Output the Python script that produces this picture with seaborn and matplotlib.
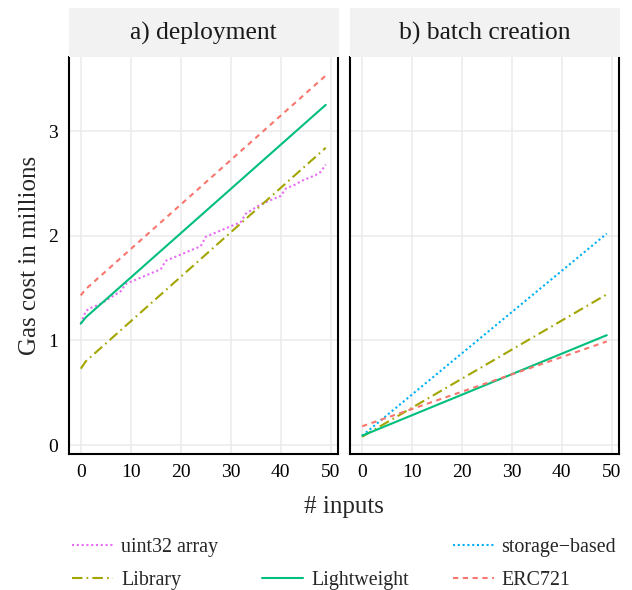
import matplotlib
matplotlib.use("Agg")
import numpy as np
import pandas as pd
import matplotlib.pyplot as plt
import seaborn as sns
from matplotlib.lines import Line2D
from matplotlib.patches import Rectangle

# ------------------------------------------------------------------
#  Data: gas cost in millions
# ------------------------------------------------------------------
UINT_X = list(range(50))
UINT_DEPLOY = [1.16, 1.28, 1.31, 1.33, 1.35, 1.38, 1.41, 1.44, 1.47, 1.54,
               1.56, 1.58, 1.60, 1.62, 1.64, 1.66, 1.68, 1.76, 1.78, 1.80,
               1.82, 1.84, 1.86, 1.88, 1.90, 1.99, 2.01, 2.03, 2.05, 2.07,
               2.09, 2.11, 2.13, 2.21, 2.24, 2.27, 2.30, 2.32, 2.34, 2.36,
               2.38, 2.45, 2.47, 2.49, 2.52, 2.54, 2.56, 2.58, 2.61, 2.68]

DEPLOY_X = [0, 1, 49]
ERC_DEPLOY = [1.43, 1.49, 3.53]
LIGHT_DEPLOY = [1.16, 1.22, 3.25]
LIB_DEPLOY = [0.73, 0.80, 2.84]

BATCH_X = [0, 49]
STORAGE_BATCH = [0.09, 2.02]
LIB_BATCH = [0.08, 1.44]
LIGHT_BATCH = [0.09, 1.05]
ERC_BATCH = [0.18, 0.99]

PANELS = ["a) deployment", "b) batch creation"]
IMPLS = ["ERC721", "Library", "Lightweight", "storage−based", "uint32 array"]
COLORS = ["#F8766D", "#A3A500", "#00BF7D", "#00B0F6", "#E76BF3"]
DASHES = [(2.5, 2.2), (5, 2, 0.8, 2), "", (1, 1.3), (1, 1.3)]


def to_long(panel, impl, xs, ys):
    return pd.DataFrame({"panel": panel, "impl": impl, "inputs": xs, "gas": ys})


df = pd.concat([
    to_long(PANELS[0], "uint32 array", UINT_X, UINT_DEPLOY),
    to_long(PANELS[0], "ERC721", DEPLOY_X, ERC_DEPLOY),
    to_long(PANELS[0], "Lightweight", DEPLOY_X, LIGHT_DEPLOY),
    to_long(PANELS[0], "Library", DEPLOY_X, LIB_DEPLOY),
    to_long(PANELS[1], "storage−based", BATCH_X, STORAGE_BATCH),
    to_long(PANELS[1], "Library", BATCH_X, LIB_BATCH),
    to_long(PANELS[1], "Lightweight", BATCH_X, LIGHT_BATCH),
    to_long(PANELS[1], "ERC721", BATCH_X, ERC_BATCH),
], ignore_index=True)

palette = dict(zip(IMPLS, COLORS))
dashes = dict(zip(IMPLS, DASHES))

# ------------------------------------------------------------------
#  Figure
# ------------------------------------------------------------------
sns.set_theme(style="white")
plt.rcParams["font.family"] = ["Liberation Serif", "DejaVu Serif"]

W, H = 632, 590
fig = plt.figure(figsize=(W / 100, H / 100), dpi=100)

top, bottom = 56.7, 454.0
panel_x = [(68.5, 338.0), (350.0, 619.0)]
axes = []
for i, (x0, x1) in enumerate(panel_x):
    ax = fig.add_axes([x0 / W, 1 - bottom / H, (x1 - x0) / W, (bottom - top) / H],
                      sharey=axes[0] if axes else None)
    axes.append(ax)
    sub = df[df["panel"] == PANELS[i]]
    sns.lineplot(data=sub, x="inputs", y="gas", hue="impl", style="impl",
                 palette=palette, dashes=dashes, linewidth=1.5,
                 estimator=None, legend=False, ax=ax)
    ax.set_xlim(-2.45, 51.45)
    ax.set_ylim(-0.085, 3.71)
    ax.set_xticks([0, 10, 20, 30, 40, 50])
    ax.set_yticks([0, 1, 2, 3])
    ax.grid(True, color="#EBEBEB", linewidth=1.1)
    ax.set_axisbelow(True)
    ax.set_xlabel("")
    ax.set_ylabel("")
    ax.spines["top"].set_visible(False)
    for s in ["left", "right", "bottom"]:
        ax.spines[s].set_color("black")
        ax.spines[s].set_linewidth(1.5)
    ax.tick_params(axis="both", direction="out", length=4, width=1.2,
                   color="black", labelsize=14, pad=3.5, labelcolor="black")

    # facet strip
    fig.add_artist(Rectangle((x0 / W, 1 - top / H), (x1 - x0 + 1) / W, (top - 8.3) / H,
                             transform=fig.transFigure, facecolor="#F2F2F2",
                             edgecolor="none"))
    fig.text((x0 + x1) / 2 / W, 1 - 33 / H, PANELS[i], ha="center", va="center",
             fontsize=18.4, color="#1A1A1A")

axes[1].tick_params(axis="y", left=False, labelleft=False)

fig.text(30 / W, 1 - 255 / H, "Gas cost in millions", rotation=90,
         ha="center", va="center", fontsize=18)
fig.text(343.5 / W, 1 - 507 / H, "# inputs", ha="center", va="center", fontsize=18)

# ------------------------------------------------------------------
#  Legend (2 rows x 3 columns, one empty slot)
# ------------------------------------------------------------------
def handle(name):
    i = IMPLS.index(name)
    d = DASHES[i]
    ls = "-" if d == "" else (0, d)
    return Line2D([], [], color=COLORS[i], linestyle=ls, linewidth=1.5)

blank = Line2D([], [], color="none")
handles = [handle("uint32 array"), handle("Library"), blank,
           handle("Lightweight"), handle("storage−based"), handle("ERC721")]
labels = ["uint32 array", "Library", "", "Lightweight", "storage−based", "ERC721"]
fig.legend(handles, labels, ncol=3, loc="upper left",
           bbox_to_anchor=(72 / W, 1 - 538 / H), frameon=False, fontsize=14.4,
           handlelength=2.05, handletextpad=0.4, columnspacing=2.2,
           labelspacing=0.72, borderpad=0, borderaxespad=0)

fig.savefig("out.png", dpi=100)
